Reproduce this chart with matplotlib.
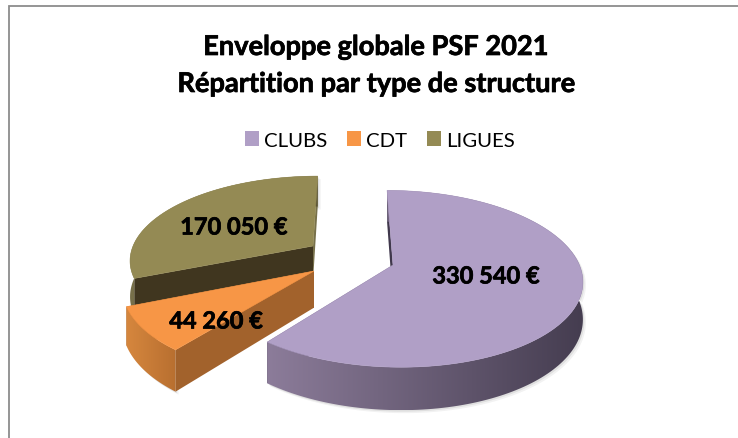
import numpy as np
import matplotlib
matplotlib.use("Agg")
import matplotlib.pyplot as plt
import matplotlib.patheffects as pe
from matplotlib.colors import to_rgb
from matplotlib.patches import Patch, Polygon

plt.rcParams['font.family'] = ['Lato', 'DejaVu Sans']

title_lines = ["Enveloppe globale PSF 2021", "Répartition par type de structure"]
categories = ["CLUBS", "CDT", "LIGUES"]
values = [330540, 44260, 170050]
value_labels = ["330 540 €", "44 260 €", "170 050 €"]
colors = ["#b09fc6", "#f79646", "#948a54"]

# apex of each exploded slice on the picture, and the label centre
apexes = [(393, 266), (314, 272), (313, 247)]
label_pos = [(486, 277), (216, 322), (234, 228)]
wall_left = ["#8c7c9a", "#d6873e", "#77704a"]
wall_right = ["#453d50", "#b86f30", "#5c5535"]
cut_first = ["#40384c", "#a2622c", "#40361f"]
cut_last = ["#40384c", "#a2622c", "#77704a"]
draw_order = [2, 1, 0]

# perspective of the pie plane
CX, CY = 349, 262
RX, RY, PERSP = 185, 85, 0.155
DEPTH = 36


def to_plane(x, y):
    yy = CY - y
    v = yy / (RY - PERSP * yy)
    return (x - CX) * (1 + PERSP * v) / RX, v


def project(u, v):
    w = 1 + PERSP * v
    return CX + RX * u / w, CY - RY * v / w, DEPTH / w


def mix(c1, c2, f):
    a, b = np.array(to_rgb(c1)), np.array(to_rgb(c2))
    return a + (b - a) * f


def gradient_fill(ax, pts, c1, c2, z):
    # horizontal colour ramp clipped to a polygon
    pts = np.asarray(pts)
    x0, x1 = pts[:, 0].min(), pts[:, 0].max()
    y0, y1 = pts[:, 1].min(), pts[:, 1].max()
    ramp = np.array([[mix(c1, c2, f) for f in np.linspace(0, 1, 256)]])
    im = ax.imshow(ramp, extent=(x0, x1, y1, y0), aspect="auto", zorder=z, interpolation="bilinear")
    clip = Polygon(pts, fc="none", ec="none", transform=ax.transData)
    ax.add_patch(clip)
    im.set_clip_path(clip)


def draw_slice(ax, i, a0, a1, z):
    u0, v0 = to_plane(*apexes[i])
    t = np.radians(np.linspace(a0, a1, 160))
    xs, ys, dz = project(u0 + np.sin(t), v0 + np.cos(t))
    ax0, ay0, dz0 = project(u0, v0)

    # soft shadow under the slice
    for off, alpha in [(3, 0.05), (1.5, 0.08)]:
        outline = np.column_stack([np.r_[xs, xs[::-1]] + off, np.r_[ys + dz, ys[::-1]] + off])
        ax.add_patch(Polygon(outline, fc="black", ec="none", alpha=alpha, zorder=z))

    # the two cut faces
    ax.add_patch(Polygon([(ax0, ay0), (xs[-1], ys[-1]), (xs[-1], ys[-1] + dz[-1]), (ax0, ay0 + dz0)],
                         fc=cut_last[i], ec="none", zorder=z + 0.1))
    ax.add_patch(Polygon([(ax0, ay0), (xs[0], ys[0]), (xs[0], ys[0] + dz[0]), (ax0, ay0 + dz0)],
                         fc=cut_first[i], ec="none", zorder=z + 0.2))

    # outer wall
    wall = np.column_stack([np.r_[xs, xs[::-1]], np.r_[ys, (ys + dz)[::-1]]])
    gradient_fill(ax, wall, wall_left[i], wall_right[i], z + 0.3)

    # top face
    top = np.column_stack([np.r_[ax0, xs], np.r_[ay0, ys]])
    ax.add_patch(Polygon(top, fc=colors[i], ec=colors[i], lw=0.4, zorder=z + 0.5))


def main():
    fig = plt.figure(figsize=(7.38, 4.39), dpi=100)
    ax = fig.add_axes([0, 0, 1, 1])

    # only the top and left sides of the frame are in the crop
    ax.plot([8.5, 8.5, 738], [439, 7, 7], color="#8c8c8c", lw=1.3, zorder=0, solid_joinstyle="miter")

    # Lato bold is a little lighter than the original face
    heavy = [pe.withStroke(linewidth=0.5, foreground="black")]
    for y, line in zip([48, 85], title_lines):
        ax.text(376, y, line, ha="center", va="center", fontsize=19.6, fontweight="bold", path_effects=heavy)

    angles = 360 * np.array(values) / sum(values)
    edges = np.r_[0, np.cumsum(angles)]
    for z, i in enumerate(draw_order):
        draw_slice(ax, i, edges[i], edges[i + 1], z + 1)

    for (x, y), lab in zip(label_pos, value_labels):
        ax.text(x, y, lab, ha="center", va="center", fontsize=17, fontweight="bold", zorder=6, path_effects=heavy)

    ax.set_xlim(0, 738)
    ax.set_ylim(439, 0)
    ax.axis("off")

    handles = [Patch(fc=c, ec="none") for c in colors]
    ax.legend(handles, categories, loc="center", bbox_to_anchor=(380 / 738, 1 - 141 / 439),
              ncol=3, frameon=False, fontsize=14.7, handlelength=0.69, handleheight=0.69,
              handletextpad=0.25, columnspacing=0.98, labelspacing=0, borderpad=0)

    fig.savefig("out.png", dpi=100)


if __name__ == '__main__':
    main()
